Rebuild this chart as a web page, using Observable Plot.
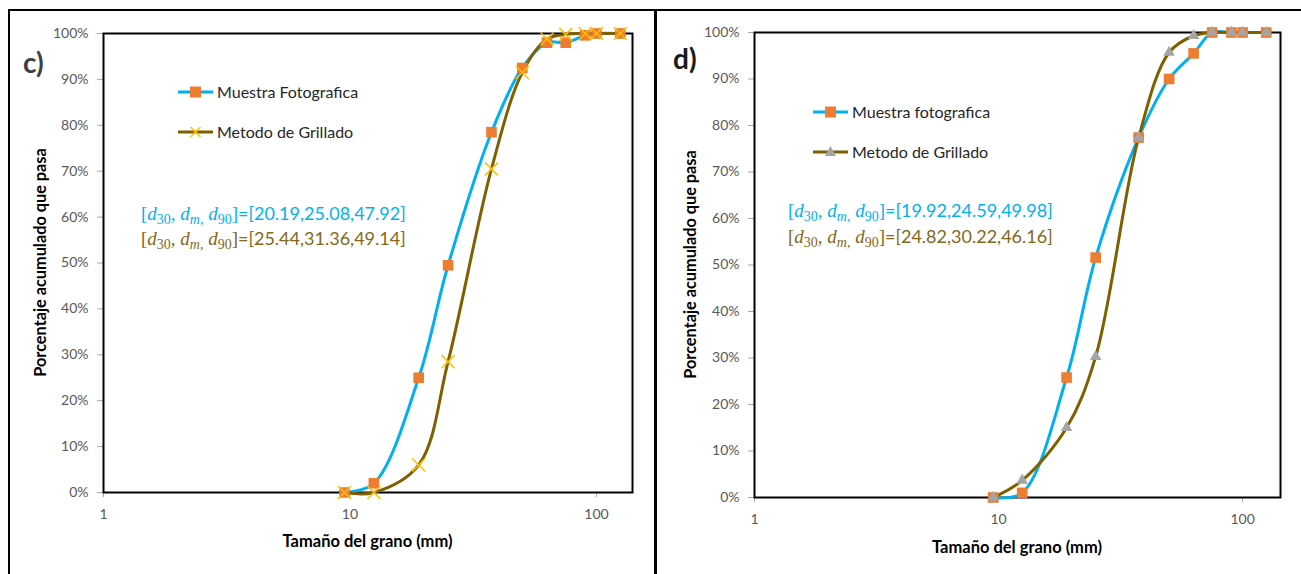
<!DOCTYPE html>
<html>
<head>
<meta charset="utf-8">
<script src="https://cdn.jsdelivr.net/npm/d3@7"></script>
<script src="https://cdn.jsdelivr.net/npm/@observablehq/plot@0.6"></script>
<style>
  body { margin: 0; background: #fff; }
  #wrap { position: relative; width: 1301px; height: 574px; overflow: hidden; background: #fff; font-family: Lato, sans-serif; }
  .panel { position: absolute; top: 0; }
  .bline { position: absolute; background: #000; }
</style>
</head>
<body>
<div id="wrap">
  <div class="bline" style="left:8px; top:9px; width:1293px; height:2px;"></div>
  <div class="bline" style="left:8px; top:9px; width:2px; height:565px;"></div>
  <div class="bline" style="left:654px; top:9px; width:3px; height:565px;"></div>
  <div id="pc" class="panel" style="left:0px;"></div>
  <div id="pd" class="panel" style="left:657px;"></div>
</div>
<script>
// ---- data ----
const sizes = [9.5, 12.5, 19, 25, 37.5, 50, 63, 75, 90, 100, 125];
const cFoto = [0, 2, 25, 49.5, 78.5, 92.5, 98, 98, 99.6, 100, 100];
const cGrill = [0, 0, 6, 28.5, 70.5, 91.5, 98.8, 99.8, 100, 100, 100];
const dFoto = [0, 1, 25.8, 51.6, 77.4, 90, 95.5, 100, 100, 100, 100];
const dGrill = [0, 3.7, 15, 30.3, 77.4, 95.7, 99.3, 100, 100, 100, 100];
const xTicks = [1, 10, 100];
const yTicks = [0, 10, 20, 30, 40, 50, 60, 70, 80, 90, 100];
const cLegend = ["Muestra Fotografica", "Metodo de Grillado"];
const dLegend = ["Muestra fotografica", "Metodo de Grillado"];
const cStats = [[20.19, 25.08, 47.92], [25.44, 31.36, 49.14]];
const dStats = [[19.92, 24.59, 49.98], [24.82, 30.22, 46.16]];

const BLUE = "#00B0F0", BROWN = "#7F6000", ORANGE = "#ED7D31", GOLD = "#FFC000", GRAY = "#A5A5A5";
const BROWN_TXT = "#84671a";

function rows(vals) { return sizes.map((s, i) => ({x: s, y: vals[i]})); }

function mathLabel(svg, x, y, color, vals) {
  const M = "Liberation Serif";
  const t = svg.append("text").attr("x", x).attr("y", y).attr("fill", color)
    .attr("text-anchor", "start")
    .style("font-size", "18px").style("font-family", "Lato");
  const sp = (txt, opts = {}) => {
    const s = t.append("tspan").text(txt);
    if (opts.math) s.attr("font-family", M).style("font-size", "19px");
    if (opts.it) s.attr("font-style", "italic");
    if (opts.sub) s.style("font-size", "14px");
    if (opts.dy) s.attr("dy", opts.dy);
    return s;
  };
  sp("[", {math: true});
  sp("d", {math: true, it: true});
  sp("30", {math: true, sub: true, dy: 4});
  sp(", ", {math: true, it: true, dy: -4});
  sp("d", {math: true, it: true});
  sp("m,", {math: true, it: true, sub: true, dy: 4});
  sp(" ", {math: true, dy: -4});
  sp("d", {math: true, it: true});
  sp("90", {math: true, sub: true, dy: 4});
  sp("]", {math: true, dy: -4});
  sp("=[" + vals.map(v => v.toFixed(2)).join(",") + "]");
}

function panel(el, cfg) {
  const F = rows(cfg.foto), G = rows(cfg.grill);
  const chart = Plot.plot({
    width: cfg.width, height: 574,
    marginLeft: cfg.ml, marginRight: cfg.mr, marginTop: cfg.mt, marginBottom: cfg.mb,
    x: {type: "log", domain: [1, cfg.xMax]},
    y: {domain: [0, 100]},
    style: {fontFamily: "Lato", fontSize: "14px", background: "transparent", overflow: "visible"},
    marks: [
      Plot.axisX({ticks: xTicks, tickFormat: d => String(d), tickSize: 5, tickPadding: 12, stroke: "#a6a6a6", fill: "#595959", label: null}),
      Plot.axisY({ticks: yTicks, tickFormat: d => d + "%", tickSize: 6, tickPadding: 9, stroke: "#a6a6a6", fill: "#595959", label: null}),
      Plot.frame({stroke: "#000", strokeWidth: 2}),
      Plot.line(F, {x: "x", y: "y", curve: "catmull-rom", stroke: BLUE, strokeWidth: 3}),
      Plot.line(G, {x: "x", y: "y", curve: "catmull-rom", stroke: BROWN, strokeWidth: 3}),
      Plot.dot(F, {x: "x", y: "y", symbol: "square", r: 6, fill: ORANGE, stroke: "none"}),
      cfg.gSym === "times"
        ? Plot.dot(G, {x: "x", y: "y", symbol: "times", r: 6, stroke: GOLD, strokeWidth: 1.5})
        : Plot.dot(G, {x: "x", y: "y", symbol: "triangle", r: 4.3, fill: GRAY, stroke: "none"})
    ]
  });
  el.appendChild(chart);
  const svg = d3.select(chart);
  const T = (x, y) => svg.append("text").attr("x", x).attr("y", y).attr("text-anchor", "start").style("font-family", "Lato");
  // panel letter
  T(cfg.letterX, cfg.letterY).text(cfg.letter)
    .attr("fill", cfg.letterColor).style("font-weight", "bold").style("font-size", "28px");
  // axis titles
  const cx = (cfg.ml + cfg.width - cfg.mr) / 2;
  T(cx, cfg.xLabY).attr("text-anchor", "middle")
    .attr("fill", "#000").style("font-weight", "bold").style("font-size", "16.5px")
    .text("Tamaño del grano (mm)");
  const cy = (cfg.mt + 574 - cfg.mb) / 2;
  svg.append("text").attr("transform", `translate(${cfg.yLabX},${cy}) rotate(-90)`).attr("text-anchor", "middle")
    .attr("dy", "0.35em").style("font-family", "Lato")
    .attr("fill", "#000").style("font-weight", "bold").style("font-size", "16.3px")
    .text("Porcentaje acumulado que pasa");
  // legend
  const L = cfg.leg;
  [[BLUE, "square", cfg.legend[0], L.y1], [BROWN, cfg.gSym, cfg.legend[1], L.y2]].forEach(([col, sym, label, yy]) => {
    svg.append("line").attr("x1", L.x0).attr("x2", L.x0 + 35).attr("y1", yy).attr("y2", yy)
      .attr("stroke", col).attr("stroke-width", 3);
    const mx = L.x0 + 17.5;
    if (sym === "square") {
      svg.append("rect").attr("x", mx - 5.5).attr("y", yy - 5.5).attr("width", 11).attr("height", 11).attr("fill", ORANGE);
    } else if (sym === "times") {
      svg.append("path").attr("d", `M${mx-5},${yy-5}L${mx+5},${yy+5}M${mx-5},${yy+5}L${mx+5},${yy-5}`)
        .attr("stroke", GOLD).attr("stroke-width", 1.5);
    } else {
      svg.append("path").attr("d", `M${mx},${yy-6}L${mx+5.5},${yy+4}L${mx-5.5},${yy+4}Z`).attr("fill", GRAY);
    }
    T(L.x0 + 39, yy).attr("dy", "0.35em")
      .attr("fill", "#262626").style("font-size", "16px").text(label);
  });
  // annotations
  mathLabel(svg, cfg.ann.x, cfg.ann.y1, BLUE, cfg.stats[0]);
  mathLabel(svg, cfg.ann.x, cfg.ann.y2, BROWN_TXT, cfg.stats[1]);
}

panel(document.getElementById("pc"), {
  width: 655, ml: 103, mr: 23, mt: 33, mb: 82, xMax: 140,
  foto: cFoto, grill: cGrill, gSym: "times",
  letter: "c)", letterX: 23, letterY: 73, letterColor: "#404040",
  xLabY: 547, yLabX: 40,
  legend: cLegend, leg: {x0: 178, y1: 92, y2: 132},
  stats: cStats, ann: {x: 141, y1: 220, y2: 245}
});
panel(document.getElementById("pd"), {
  width: 644, ml: 97, mr: 21, mt: 32, mb: 77, xMax: 143,
  foto: dFoto, grill: dGrill, gSym: "triangle",
  letter: "d)", letterX: 16, letterY: 69, letterColor: "#1a1a1a",
  xLabY: 553, yLabX: 33,
  legend: dLegend, leg: {x0: 156, y1: 112, y2: 152},
  stats: dStats, ann: {x: 131, y1: 217, y2: 243}
});
</script>
</body>
</html>
